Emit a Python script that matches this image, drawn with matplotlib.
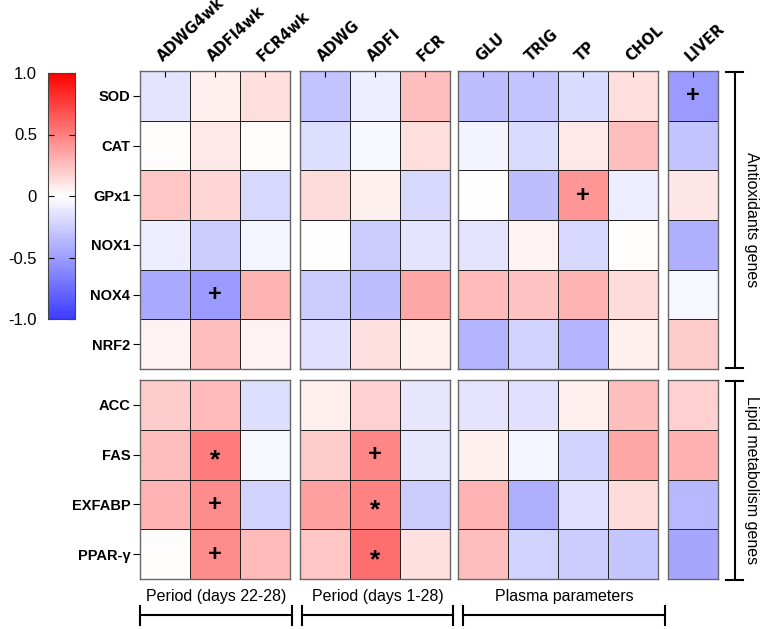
"""Correlation heatmap of gene expression vs performance / plasma parameters."""

import matplotlib

matplotlib.use("Agg")

import matplotlib.pyplot as plt
import numpy as np
from matplotlib.colors import LinearSegmentedColormap, Normalize
from matplotlib.colorbar import ColorbarBase

plt.rcParams["font.family"] = ["Liberation Sans", "DejaVu Sans"]

genes = ["SOD", "CAT", "GPx1", "NOX1", "NOX4", "NRF2", "ACC", "FAS", "EXFABP", "PPAR-γ"]
traits = ["ADWG4wk", "ADFI4wk", "FCR4wk", "ADWG", "ADFI", "FCR",
          "GLU", "TRIG", "TP", "CHOL", "LIVER"]

# correlation coefficients, one list per gene (same order as traits)
sod = [-0.14, 0.06, 0.13, -0.31, -0.09, 0.25, -0.33, -0.31, -0.18, 0.13, -0.51]
cat = [0.01, 0.09, 0.01, -0.17, -0.04, 0.13, -0.06, -0.18, 0.09, 0.25, -0.31]
gpx1 = [0.22, 0.16, -0.20, 0.14, 0.06, -0.20, 0.0, -0.33, 0.41, -0.09, 0.10]
nox1 = [-0.09, -0.26, -0.05, 0.0, -0.26, -0.14, -0.14, 0.05, -0.20, 0.01, -0.41]
nox4 = [-0.44, -0.51, 0.29, -0.26, -0.33, 0.35, 0.27, 0.24, 0.29, 0.14, -0.04]
nrf2 = [0.05, 0.25, 0.05, -0.15, 0.12, 0.06, -0.38, -0.23, -0.38, 0.06, 0.20]
acc = [0.20, 0.27, -0.17, 0.07, 0.18, -0.13, -0.14, -0.15, 0.06, 0.25, 0.18]
fas = [0.25, 0.51, -0.04, 0.20, 0.47, -0.13, 0.06, -0.05, -0.22, 0.35, 0.31]
exfabp = [0.29, 0.45, -0.23, 0.37, 0.49, -0.26, 0.29, -0.41, -0.15, 0.14, -0.36]
ppar = [0.01, 0.45, 0.27, 0.22, 0.57, 0.12, 0.25, -0.23, -0.26, -0.29, -0.46]

# significance marks: (gene, trait, symbol)
marks = [
    ("SOD", "LIVER", "+"), ("GPx1", "TP", "+"), ("NOX4", "ADFI4wk", "+"),
    ("FAS", "ADFI4wk", "*"), ("FAS", "ADFI", "+"),
    ("EXFABP", "ADFI4wk", "+"), ("EXFABP", "ADFI", "*"),
    ("PPAR-γ", "ADFI4wk", "+"), ("PPAR-γ", "ADFI", "*"),
]

row_groups = ["Antioxidants genes", "Lipid metabolism genes"]
col_groups = ["Period (days 22-28)", "Period (days 1-28)", "Plasma parameters"]

data = np.array([sod, cat, gpx1, nox1, nox4, nrf2, acc, fas, exfabp, ppar])

W, H = 767, 629
cmap = LinearSegmentedColormap.from_list("gp", ["#3c3cff", "#ffffff", "#ff0000"])
norm = Normalize(-1, 1)

# block extents in pixels
col_blocks = [(0, 3, 140, 290), (3, 6, 300, 450), (6, 10, 458, 658), (10, 11, 668, 718)]
row_blocks = [(0, 6, 71, 369), (6, 10, 380, 579)]


def px_axes(fig, x0, y0, x1, y1):
    return fig.add_axes([x0 / W, 1 - y1 / H, (x1 - x0) / W, (y1 - y0) / H])


fig = plt.figure(figsize=(W / 100, H / 100), dpi=100)

for ri, (r0, r1, y0, y1) in enumerate(row_blocks):
    for ci, (c0, c1, x0, x1) in enumerate(col_blocks):
        ax = px_axes(fig, x0, y0, x1, y1)
        block = data[r0:r1, c0:c1]
        ax.pcolormesh(block, cmap=cmap, norm=norm, edgecolors="#222222", linewidth=0.7)
        ax.set_xlim(0, c1 - c0)
        ax.set_ylim(r1 - r0, 0)
        for sp in ax.spines.values():
            sp.set_color("#666666")
            sp.set_linewidth(1.0)
        ax.set_xticks(np.arange(c1 - c0) + 0.5)
        if ri == 0:
            ax.xaxis.tick_top()
            ax.set_xticklabels(traits[c0:c1], rotation=43, ha="left", va="bottom",
                               rotation_mode="anchor", fontsize=10.5,
                               fontweight="bold", family="DejaVu Sans")
            ax.tick_params(axis="x", direction="in", length=4, width=0.8, pad=5)
        else:
            ax.tick_params(axis="x", length=0, labelbottom=False)
        ax.set_yticks(np.arange(r1 - r0) + 0.5)
        if ci == 0:
            ax.set_yticklabels(genes[r0:r1], fontsize=10.5, fontweight="bold")
            ax.tick_params(axis="y", direction="out", length=5, width=0.8, pad=2)
        else:
            ax.tick_params(axis="y", length=0, labelleft=False)
        for g, t, sym in marks:
            r, c = genes.index(g), traits.index(t)
            if r0 <= r < r1 and c0 <= c < c1:
                dy = 0.12 if sym == "*" else 0.0
                ax.text(c - c0 + 0.5, r - r0 + 0.5 + dy, sym, ha="center", va="center",
                        fontsize=17 if sym == "+" else 19, fontweight="bold")

# colour bar
cax = px_axes(fig, 48, 73, 75, 319)
cb = ColorbarBase(cax, cmap=cmap, norm=norm, orientation="vertical")
cb.set_ticks([-1, -0.5, 0, 0.5, 1])
cb.set_ticklabels(["-1.0", "-0.5", "0", "0.5", "1.0"])
cax.yaxis.set_ticks_position("both")
cax.yaxis.set_label_position("left")
cax.tick_params(axis="y", direction="in", length=4, width=0.8, labelleft=True,
                labelright=False, labelsize=12, pad=8)
cb.outline.set_edgecolor("#444444")
cb.outline.set_linewidth(0.8)

# brackets drawn on an overlay axes in pixel coordinates
ov = fig.add_axes([0, 0, 1, 1])
ov.set_xlim(0, W)
ov.set_ylim(H, 0)
ov.axis("off")

for (y0, y1), label in zip([(72, 368), (381, 580)], row_groups):
    ov.plot([735, 735], [y0, y1], color="black", lw=1.5)
    ov.plot([726, 743], [y0, y0], color="black", lw=1.5)
    ov.plot([726, 743], [y1, y1], color="black", lw=1.5)
    ov.text(752, (y0 + y1) / 2, label, rotation=-90, ha="center", va="center", fontsize=11.5)

for (x0, x1), label in zip([(140, 292), (302, 453), (463, 665)], col_groups):
    ov.plot([x0, x1], [615, 615], color="black", lw=1.5)
    ov.plot([x0, x0], [606, 625], color="black", lw=1.5)
    ov.plot([x1, x1], [606, 625], color="black", lw=1.5)
    ov.text((x0 + x1) / 2, 596, label, ha="center", va="center", fontsize=11.5)

fig.savefig("out.png", dpi=100)
